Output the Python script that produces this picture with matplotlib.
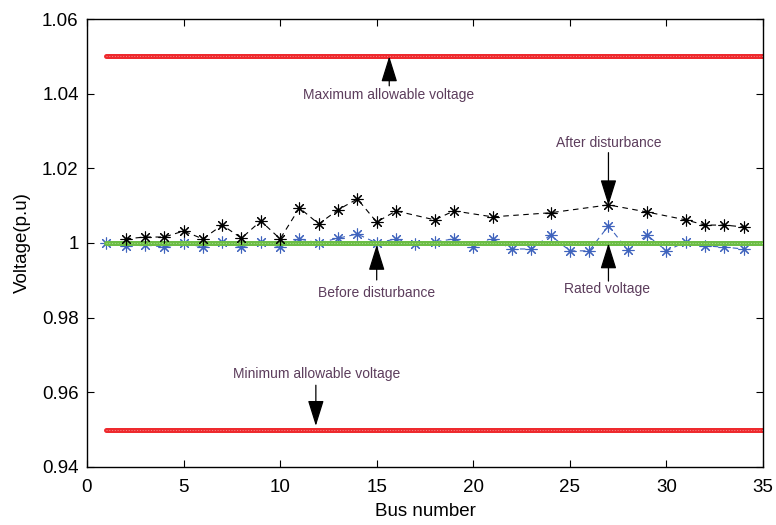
import numpy as np
import matplotlib
matplotlib.use("Agg")
import matplotlib.pyplot as plt

plt.rcParams['font.family'] = ['Liberation Sans', 'DejaVu Sans']

# bus voltages (p.u.)
buses = list(range(1, 35))
v_before = [1.0, 0.9992, 0.9995, 0.9989, 1.0, 0.9989, 1.0003, 0.9989, 1.0003, 0.9989,
            1.0011, 1.0, 1.0013, 1.0024, 1.0, 1.0011, 0.9997, 1.0003, 1.0011, 0.9989,
            1.0011, 0.9984, 0.9984, 1.0021, 0.9979, 0.9979, 1.0046, 0.9981, 1.0021, 0.9979,
            1.0003, 0.9992, 0.9989, 0.9984]

after_buses = [2, 3, 4, 5, 6, 7, 8, 9, 10, 11, 12, 13, 14, 15, 16, 18, 19, 21, 24, 27,
               29, 31, 32, 33, 34]
v_after = [1.0011, 1.0016, 1.0016, 1.0032, 1.0011, 1.0048, 1.0013, 1.0059, 1.0011, 1.0094,
           1.0051, 1.0089, 1.0118, 1.0056, 1.0086, 1.0062, 1.0086, 1.0070, 1.0081, 1.0102,
           1.0083, 1.0062, 1.0048, 1.0048, 1.0043]

v_max, v_rated, v_min = 1.05, 1.0, 0.95
limit_span = [1, 35]

xticks = [0, 5, 10, 15, 20, 25, 30, 35]
yticks = [0.94, 0.96, 0.98, 1.0, 1.02, 1.04, 1.06]
ytick_labels = ['0.94', '0.96', '0.98', '1', '1.02', '1.04', '1.06']

fig = plt.figure(figsize=(7.76, 5.25), dpi=100)
ax = fig.add_axes([0.1121, 0.1105, 0.8711, 0.8533])

red = '#ee2a2e'
green = '#6cbd45'
blue = '#3f63bd'
note = '#5c3d5c'
star = (8, 2, 0)


def limit_line(y, color, z):
    ax.plot(limit_span, [y, y], color=color, lw=3.6, solid_capstyle='round', zorder=z)
    ax.plot(limit_span, [y, y], color='white', lw=0.5, alpha=0.6,
            linestyle=(0, (1.5, 2.5)), zorder=z + 0.1)


limit_line(v_max, red, 2)
limit_line(v_min, red, 2)

ax.plot(buses, v_before, color=blue, lw=0.8, linestyle=(0, (5, 4)),
        marker=star, ms=8.5, mew=0.8, zorder=2.5)
limit_line(v_rated, green, 3)
ax.plot(after_buses, v_after, color='black', lw=0.8, linestyle=(0, (5, 4)),
        marker=star, ms=8.5, mew=0.8, zorder=4)

arrow = dict(arrowstyle='-|>,head_length=1.6,head_width=0.5', color='black',
             lw=0.9, shrinkA=0, shrinkB=0)
notes = [
    ('Maximum allowable voltage', (15.6, 1.0397), (15.65, 1.0421), (15.65, 1.0500)),
    ('After disturbance', (27.0, 1.0268), (27.0, 1.0242), (27.0, 1.0101)),
    ('Before disturbance', (15.0, 0.9866), (15.0, 0.9901), (15.0, 0.9995)),
    ('Rated voltage', (26.95, 0.9877), (27.0, 0.9898), (27.0, 0.9999)),
    ('Minimum allowable voltage', (11.9, 0.9648), (11.85, 0.9619), (11.85, 0.9510)),
]
for text, xy_text, tail, tip in notes:
    ax.text(*xy_text, text, color=note, fontsize=10, ha='center', va='center', zorder=6)
    ax.annotate('', xy=tip, xytext=tail, arrowprops=arrow, zorder=6)

ax.set_xlim(0, 35)
ax.set_ylim(0.94, 1.06)
ax.set_xticks(xticks)
ax.set_yticks(yticks)
ax.set_yticklabels(ytick_labels)
ax.tick_params(direction='in', length=5, width=0.8, top=True, right=True,
               labelsize=13.5, pad=6)
ax.tick_params(axis='x', pad=9)
for s in ax.spines.values():
    s.set_linewidth(1.0)

ax.set_xlabel('Bus number', fontsize=13.5, labelpad=5)
ax.set_ylabel('Voltage(p.u)', fontsize=13.5, labelpad=8)

fig.savefig('out.png', dpi=100)
